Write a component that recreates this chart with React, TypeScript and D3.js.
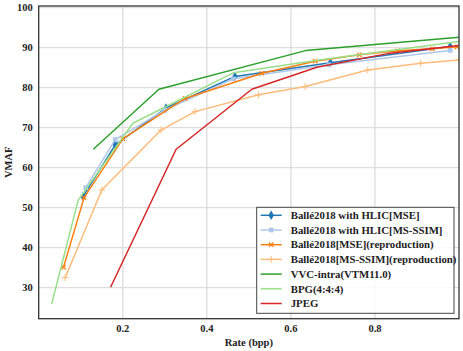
import React from "react";
import * as d3 from "d3";

// rate (bpp) / VMAF
const hlicMseRate = [0.106, 0.182, 0.303, 0.467, 0.694, 0.979];
const hlicMseVmaf = [52.8, 65.7, 74.9, 82.8, 86.2, 90.3];

const hlicSsimRate = [0.112, 0.182, 0.3, 0.463, 0.69, 0.979];
const hlicSsimVmaf = [55.0, 67.0, 74.4, 82.2, 85.7, 89.3];

const repMseRate = [0.059, 0.108, 0.2, 0.348, 0.531, 0.658, 0.763, 0.854, 0.936, 0.995];
const repMseVmaf = [35.1, 52.5, 67.2, 77.3, 83.6, 86.6, 88.2, 89.2, 89.7, 90.2];

const repSsimRate = [0.063, 0.15, 0.291, 0.372, 0.523, 0.634, 0.783, 0.909, 1.0];
const repSsimVmaf = [32.5, 54.4, 69.4, 74.0, 78.2, 80.3, 84.4, 86.1, 86.9];

const vvcRate = [0.13, 0.286, 0.635, 1.0];
const vvcVmaf = [64.6, 79.6, 89.25, 92.6];

const bpgRate = [0.031, 0.094, 0.224, 0.463, 0.68, 1.0];
const bpgVmaf = [26.0, 51.9, 71.1, 83.7, 87.1, 91.5];

const jpegRate = [0.171, 0.327, 0.507, 0.662, 0.83, 1.0];
const jpegVmaf = [30.1, 64.6, 79.6, 85.1, 88.5, 90.5];

const xTicks = [0.2, 0.4, 0.6, 0.8];
const yTicks = [30, 40, 50, 60, 70, 80, 90, 100];

type Series = {
  name: string;
  rate: number[];
  vmaf: number[];
  color: string;
  marker: "diamond" | "square" | "x" | "plus" | null;
  width: number;
};

const series: Series[] = [
  { name: "Ballé2018 with HLIC[MSE]", rate: hlicMseRate, vmaf: hlicMseVmaf, color: "#1f77b4", marker: "diamond", width: 1.5 },
  { name: "Ballé2018 with HLIC[MS-SSIM]", rate: hlicSsimRate, vmaf: hlicSsimVmaf, color: "#aec7e8", marker: "square", width: 1.5 },
  { name: "Ballé2018[MSE](reproduction)", rate: repMseRate, vmaf: repMseVmaf, color: "#ff7f0e", marker: "x", width: 1.5 },
  { name: "Ballé2018[MS-SSIM](reproduction)", rate: repSsimRate, vmaf: repSsimVmaf, color: "#ffbb78", marker: "plus", width: 1.5 },
  { name: "VVC-intra(VTM11.0)", rate: vvcRate, vmaf: vvcVmaf, color: "#2ca02c", marker: null, width: 1.5 },
  { name: "BPG(4:4:4)", rate: bpgRate, vmaf: bpgVmaf, color: "#98df8a", marker: null, width: 1.5 },
  { name: "JPEG", rate: jpegRate, vmaf: jpegVmaf, color: "#d62728", marker: null, width: 1.5 },
];

const W = 463;
const H = 351;
const left = 38.7;
const right = 459;
const top = 6;
const bottom = 318.7;

const font = "'Liberation Serif', 'DejaVu Serif', serif";

const Marker = ({ kind, color, x, y }: { kind: Series["marker"]; color: string; x: number; y: number }) => {
  if (kind === "diamond") {
    return <path d={d3.symbol(d3.symbolDiamond, 26)()!} transform={`translate(${x},${y})`} fill={color} />;
  }
  if (kind === "square") {
    return <path d={d3.symbol(d3.symbolSquare, 22)()!} transform={`translate(${x},${y})`} fill={color} />;
  }
  if (kind === "x") {
    return <path d={d3.symbol(d3.symbolTimes, 14)()!} transform={`translate(${x},${y})`} fill="none" stroke={color} strokeWidth={1.2} />;
  }
  if (kind === "plus") {
    return <path d={d3.symbol(d3.symbolPlus, 18)()!} transform={`translate(${x},${y})`} fill="none" stroke={color} strokeWidth={1} />;
  }
  return null;
};

export default function App() {
  const x = d3.scaleLinear().domain([0, 1.0]).range([left, right]);
  const y = d3.scaleLinear().domain([22.25, 100.4]).range([bottom, top]);

  const line = d3
    .line<[number, number]>()
    .x(d => x(d[0]))
    .y(d => y(d[1]));

  const legendX = 256.7;
  const legendY = 207.3;
  const rowH = 14.7;

  return (
    <svg width={W} height={H} style={{ position: "absolute", left: 0, top: 0, background: "#fff" }}>
      <defs>
        <clipPath id="plot">
          <rect x={left} y={top} width={right - left} height={bottom - top} />
        </clipPath>
      </defs>

      {/* grid */}
      <g stroke="#dddddd" strokeWidth={1.3}>
        {xTicks.map(t => (
          <line key={"gx" + t} x1={x(t)} x2={x(t)} y1={top} y2={bottom} />
        ))}
        {yTicks.map(t => (
          <line key={"gy" + t} x1={left} x2={right} y1={y(t)} y2={y(t)} />
        ))}
      </g>

      {/* series */}
      <g clipPath="url(#plot)">
        {series.map(s => {
          const pts = s.rate.map((r, i) => [r, s.vmaf[i]] as [number, number]);
          return (
            <g key={s.name}>
              <path d={line(pts)!} fill="none" stroke={s.color} strokeWidth={s.width} strokeLinejoin="round" />
              {s.marker &&
                pts.map((p, i) => <Marker key={i} kind={s.marker} color={s.color} x={x(p[0])} y={y(p[1])} />)}
            </g>
          );
        })}
      </g>

      {/* frame */}
      <rect x={left} y={top} width={right - left} height={bottom - top} fill="none" stroke="#333" strokeWidth={1.3} />

      {/* tick labels */}
      <g fontFamily={font} fontWeight="bold" fontSize={10.5} fill="#222">
        {xTicks.map(t => (
          <text key={"tx" + t} x={x(t)} y={bottom + 13} textAnchor="middle">
            {d3.format(".1f")(t)}
          </text>
        ))}
        {yTicks.map(t => (
          <text key={"ty" + t} x={left - 6} y={y(t)} dy="0.35em" textAnchor="end">
            {t}
          </text>
        ))}
        <text x={(left + right) / 2} y={bottom + 27} textAnchor="middle">
          Rate (bpp)
        </text>
        <text transform={`translate(12,${(top + bottom) / 2}) rotate(-90)`} textAnchor="middle">
          VMAF
        </text>
      </g>

      {/* legend */}
      <g>
        <rect x={legendX} y={legendY} width={454 - legendX} height={313.3 - legendY} fill="#fff" fillOpacity={0.85} stroke="#444" strokeWidth={1} />
        {series.map((s, i) => {
          const cy = legendY + 8 + i * rowH;
          return (
            <g key={"lg" + s.name}>
              <line x1={legendX + 4} x2={legendX + 25} y1={cy} y2={cy} stroke={s.color} strokeWidth={s.width} />
              {s.marker && <Marker kind={s.marker} color={s.color} x={legendX + 14.5} y={cy} />}
              <text x={legendX + 34} y={cy} dy="0.35em" fontFamily={font} fontWeight="bold" fontSize={10.8} fill="#222">
                {s.name}
              </text>
            </g>
          );
        })}
      </g>
    </svg>
  );
}
